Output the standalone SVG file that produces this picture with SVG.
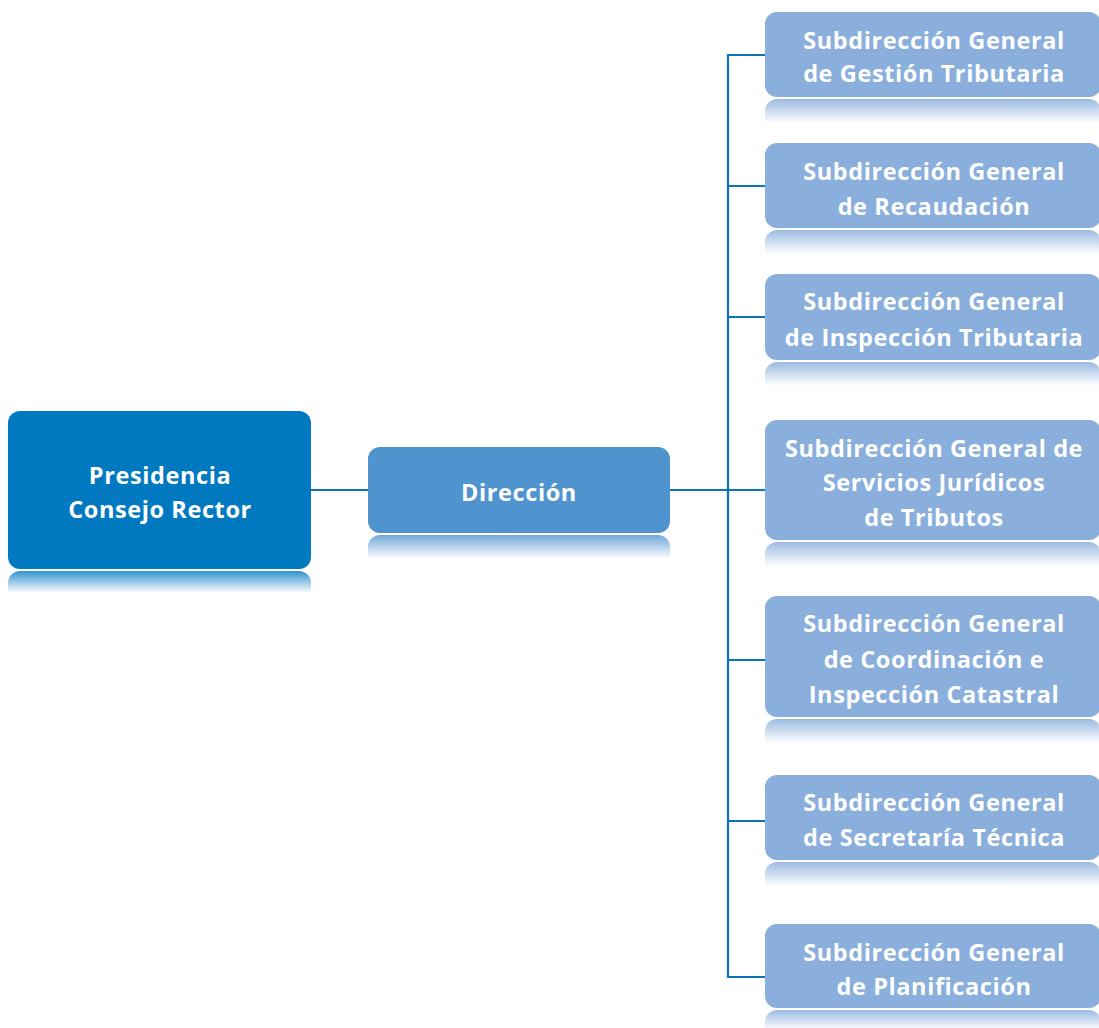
<svg xmlns="http://www.w3.org/2000/svg" width="1099" height="1028" viewBox="0 0 1099 1028">
<defs>
<linearGradient id="rp" x1="0" y1="0" x2="0" y2="1"><stop offset="0" stop-color="#0079c1" stop-opacity="0.8"/><stop offset="1" stop-color="#0079c1" stop-opacity="0"/></linearGradient>
<linearGradient id="rd" x1="0" y1="0" x2="0" y2="1"><stop offset="0" stop-color="#4f93cf" stop-opacity="0.8"/><stop offset="1" stop-color="#4f93cf" stop-opacity="0"/></linearGradient>
<linearGradient id="rs" x1="0" y1="0" x2="0" y2="1"><stop offset="0" stop-color="#8aafdc" stop-opacity="0.85"/><stop offset="1" stop-color="#8aafdc" stop-opacity="0"/></linearGradient>
</defs>
<style>
text{font-family:"Open Sans","Lato","DejaVu Sans",sans-serif;font-weight:bold;font-size:23.5px;letter-spacing:0.6px;fill:#fff;text-anchor:middle}
.ln{stroke:#0e72b9;stroke-width:2.2;fill:none}
.p{fill:#0079c1}.d{fill:#4f93cf}.s{fill:#8aafdc}
</style>
<g id="connectors">
<path class="ln" d="M311 490H368M670 490H765M765 55H728V977H765M728 186H765M728 317H765M728 660H765M728 821H765"/>
</g>
<g id="presidencia">
<rect class="p" x="8" y="411" width="303" height="158" rx="12"/>
<path d="M8 583a12 12 0 0 1 12-12h279a12 12 0 0 1 12 12v10H8z" fill="url(#rp)"/>
<text x="160" y="484">Presidencia</text>
<text x="160" y="518">Consejo Rector</text>
</g>
<g id="direccion">
<rect class="d" x="368" y="447" width="302" height="86" rx="12"/>
<path d="M368 547a12 12 0 0 1 12-12h278a12 12 0 0 1 12 12v12H368z" fill="url(#rd)"/>
<text x="519" y="501">Dirección</text>
</g>
<g id="sg1">
<rect class="s" x="765" y="12" width="336" height="85" rx="12"/>
<path d="M765 111a12 12 0 0 1 12-12h312a12 12 0 0 1 12 12v12H765z" fill="url(#rs)"/>
<text x="934" y="49">Subdirección General</text>
<text x="934" y="82">de Gestión Tributaria</text>
</g>
<g id="sg2">
<rect class="s" x="765" y="143" width="336" height="85" rx="12"/>
<path d="M765 242a12 12 0 0 1 12-12h312a12 12 0 0 1 12 12v12H765z" fill="url(#rs)"/>
<text x="934" y="180">Subdirección General</text>
<text x="934" y="215">de Recaudación</text>
</g>
<g id="sg3">
<rect class="s" x="765" y="274" width="336" height="86" rx="12"/>
<path d="M765 374a12 12 0 0 1 12-12h312a12 12 0 0 1 12 12v12H765z" fill="url(#rs)"/>
<text x="934" y="310">Subdirección General</text>
<text x="934" y="346">de Inspección Tributaria</text>
</g>
<g id="sg4">
<rect class="s" x="765" y="420" width="336" height="120" rx="12"/>
<path d="M765 554a12 12 0 0 1 12-12h312a12 12 0 0 1 12 12v12H765z" fill="url(#rs)"/>
<text x="934" y="457">Subdirección General de</text>
<text x="934" y="491">Servicios Jurídicos</text>
<text x="934" y="526">de Tributos</text>
</g>
<g id="sg5">
<rect class="s" x="765" y="596" width="336" height="121" rx="12"/>
<path d="M765 731a12 12 0 0 1 12-12h312a12 12 0 0 1 12 12v12H765z" fill="url(#rs)"/>
<text x="934" y="632">Subdirección General</text>
<text x="934" y="668">de Coordinación e</text>
<text x="934" y="703">Inspección Catastral</text>
</g>
<g id="sg6">
<rect class="s" x="765" y="775" width="336" height="85" rx="12"/>
<path d="M765 874a12 12 0 0 1 12-12h312a12 12 0 0 1 12 12v12H765z" fill="url(#rs)"/>
<text x="934" y="811">Subdirección General</text>
<text x="934" y="846">de Secretaría Técnica</text>
</g>
<g id="sg7">
<rect class="s" x="765" y="924" width="336" height="84" rx="12"/>
<path d="M765 1022a12 12 0 0 1 12-12h312a12 12 0 0 1 12 12v8H765z" fill="url(#rs)"/>
<text x="934" y="961">Subdirección General</text>
<text x="934" y="995">de Planificación</text>
</g>
</svg>
